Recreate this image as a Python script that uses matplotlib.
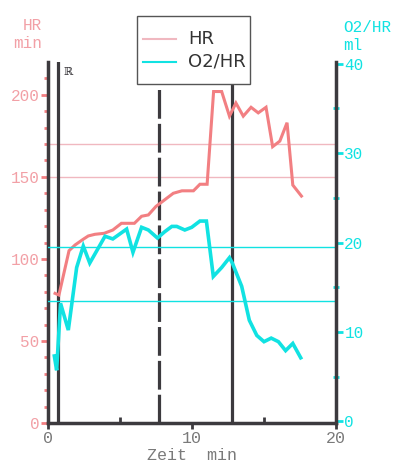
import matplotlib
matplotlib.use("Agg")
import matplotlib.pyplot as plt
from matplotlib.lines import Line2D
from matplotlib.patches import Rectangle

# ---- data ----
t_hr = [0.49, 0.76, 1.46, 1.88, 2.45, 2.8, 3.26, 3.9, 4.5, 5.1, 6.0, 6.5, 6.97, 7.5, 8.1,
        8.7, 9.3, 10.1, 10.55, 11.05, 11.5, 12.06, 12.6, 13.05, 13.56, 14.1, 14.6, 15.14,
        15.6, 16.1, 16.6, 17.0, 17.6]
hr = [79, 78, 105, 108.5, 112, 114, 115, 115.6, 117.6, 121.7, 121.7, 126, 126.8, 132, 136,
      140, 141.5, 141.5, 145.5, 145.5, 202, 202, 187, 195, 187, 192.4, 189, 192.4,
      168.4, 171.8, 183, 145, 138.3]
t_o2 = [0.44, 0.6, 0.87, 1.41, 1.99, 2.45, 2.9, 3.96, 4.5, 5.46, 5.9, 6.5, 6.97, 7.6, 8.1,
        8.6, 8.94, 9.5, 9.98, 10.55, 11.0, 11.48, 12.06, 12.6, 12.8, 13.45, 13.98, 14.5,
        15.0, 15.5, 16.0, 16.5, 17.0, 17.55]
o2hr = [7.3, 5.7, 13.2, 10.2, 17.2, 19.6, 17.7, 20.7, 20.4, 21.5, 18.9, 21.7, 21.4, 20.5, 21.2,
        21.8, 21.8, 21.4, 21.7, 22.4, 22.4, 16.2, 17.2, 18.3, 17.7, 15.1, 11.3, 9.6,
        8.9, 9.3, 8.9, 7.9, 8.7, 7.1]
hr_ref = [170, 150]
o2_ref = [19.5, 13.5]
vlines_solid = [0.72, 12.8]
vline_dashed = 7.7
x_ticks = [0, 10, 20]
hr_ticks = [0, 50, 100, 150, 200]
o2_ticks = [0, 10, 20, 30, 40]

PINK = "#f27f82"
PINK_T = "#f2a0a6"
PINK_REF = "#f0b8c0"
CYAN = "#11e2e2"
DARK = "#3c3a3e"
GRAY = "#7a7a7a"
MONO = "Liberation Mono"

W, H = 395, 463
fig = plt.figure(figsize=(W / 100, H / 100), dpi=100)
fig.patch.set_facecolor("white")
L, R, B, T = 48 / W, 336 / W, 1 - 423 / H, 1 - 62 / H
ax = fig.add_axes([L, B, R - L, T - B])
ax2 = ax.twinx()

ax.set_xlim(0, 20)
ax.set_ylim(0, 220)
ax2.set_ylim(-0.2, 40.2)

# reference lines
for v in hr_ref:
    ax.axhline(v, color=PINK_REF, lw=1.0, zorder=1)
for v in o2_ref:
    ax2.axhline(v, color=CYAN, lw=1.0, zorder=1)

# vertical markers
for v in vlines_solid:
    ax.axvline(v, color=DARK, lw=2.3, zorder=3)
ax.axvline(vline_dashed, color=DARK, lw=2.3, zorder=3, dashes=(9, 1.6))

ax.plot(t_hr, hr, color=PINK, lw=2.2, zorder=4, solid_joinstyle="miter")
ax2.plot(t_o2, o2hr, color=CYAN, lw=2.6, zorder=4, solid_joinstyle="miter")

# spines
for a in (ax, ax2):
    a.spines["top"].set_visible(False)
ax.spines["right"].set_visible(False)
ax2.spines["left"].set_visible(False)
ax2.spines["bottom"].set_visible(False)
for s in ("left", "bottom"):
    ax.spines[s].set_color(DARK)
    ax.spines[s].set_linewidth(2.5)
ax2.spines["right"].set_color(DARK)
ax2.spines["right"].set_linewidth(2.5)

# x ticks
ax.set_xticks(x_ticks)
ax.set_xticklabels([str(v) for v in x_ticks], fontfamily=MONO, fontsize=12, color=GRAY)
ax.set_xticks([5, 15], minor=True)
ax.tick_params(axis="x", which="major", direction="out", length=4, width=2, color=DARK, pad=2)
ax.tick_params(axis="x", which="minor", direction="in", length=4, width=2, color=DARK)

# left y ticks
ax.set_yticks(hr_ticks)
ax.set_yticklabels([str(v) for v in hr_ticks], fontfamily=MONO, fontsize=11.5, color=PINK_T)
ax.set_yticks(list(range(10, 220, 10)), minor=True)
ax.tick_params(axis="y", which="major", direction="out", length=5, width=2, color=PINK, pad=1)
ax.tick_params(axis="y", which="minor", direction="out", length=3, width=2, color=PINK)

# right y ticks
ax2.set_yticks(o2_ticks)
ax2.set_yticklabels([str(v) for v in o2_ticks], fontfamily=MONO, fontsize=11.5, color=CYAN)
ax2.set_yticks(list(range(5, 40, 10)), minor=True)
ax2.tick_params(axis="y", which="major", direction="out", length=5, width=2, color=CYAN, pad=1)
ax2.tick_params(axis="y", which="minor", direction="inout", length=4, width=2, color=CYAN)

ax.set_facecolor("none")
ax2.set_facecolor("none")

# axis labels
fig.text(42 / W, 1 - 26 / H, "HR", ha="right", va="center", fontfamily=MONO,
         fontsize=11.5, color=PINK_T)
fig.text(42 / W, 1 - 44 / H, "min", ha="right", va="center", fontfamily=MONO,
         fontsize=11.5, color=PINK_T)
fig.text(343 / W, 1 - 28 / H, "O2/HR", ha="left", va="center", fontfamily=MONO,
         fontsize=11.5, color=CYAN)
fig.text(343 / W, 1 - 46 / H, "ml", ha="left", va="center", fontfamily=MONO,
         fontsize=11.5, color=CYAN)
fig.text(192 / W, 1 - 456 / H, "Zeit  min", ha="center", va="center", fontfamily=MONO,
         fontsize=12, color=GRAY)

# small marker glyph
fig.text(68 / W, 1 - 72 / H, "\u211D", ha="center", va="center", fontfamily="DejaVu Serif",
         fontsize=8, color=DARK)

# legend box (figure coordinates)
bx0, by0, bx1, by1 = 137, 16, 250, 84
fig.add_artist(Rectangle((bx0 / W, 1 - by1 / H), (bx1 - bx0) / W, (by1 - by0) / H,
                         transform=fig.transFigure, facecolor="white", edgecolor="#555555",
                         lw=1.0, zorder=10))
fig.add_artist(Line2D([143 / W, 176 / W], [1 - 39 / H, 1 - 39 / H], transform=fig.transFigure,
                      color=PINK_REF, lw=1.5, zorder=11))
fig.add_artist(Line2D([143 / W, 176 / W], [1 - 62 / H, 1 - 62 / H], transform=fig.transFigure,
                      color=CYAN, lw=1.5, zorder=11))
fig.text(188 / W, 1 - 39 / H, "HR", ha="left", va="center", fontfamily="DejaVu Sans",
         fontsize=13, color="#333333", zorder=12)
fig.text(188 / W, 1 - 62 / H, "O2/HR", ha="left", va="center", fontfamily="DejaVu Sans",
         fontsize=13, color="#333333", zorder=12)

fig.savefig("out.png", dpi=100)
